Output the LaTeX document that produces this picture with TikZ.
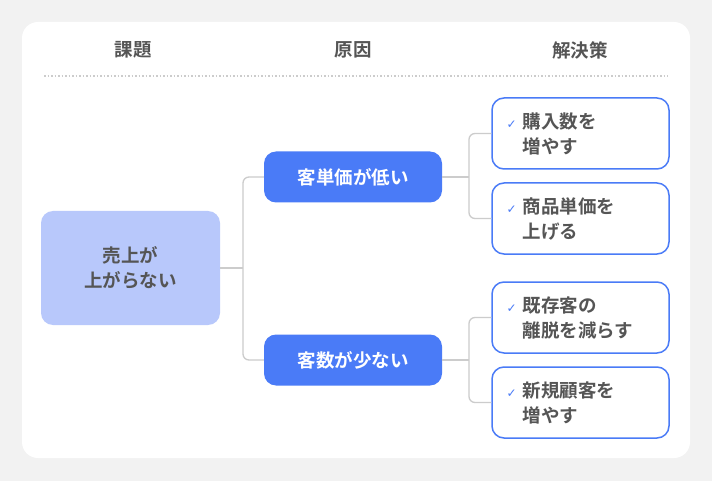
\documentclass[tikz,border=0pt]{standalone}
\usepackage{fontspec}
\newfontfamily\cjk{Noto Sans CJK JP Bold}
\newfontfamily\sym{DejaVu Sans}
\usetikzlibrary{positioning}
\definecolor{bggray}{HTML}{F2F2F2}
\definecolor{txtgray}{HTML}{555555}
\definecolor{mainblue}{HTML}{4A7BF7}
\definecolor{paleblue}{HTML}{B8C8FB}
\definecolor{linegray}{HTML}{CCCCCC}
\newcommand{\chk}{\hspace{6pt}\makebox[16pt][l]{\sym\bfseries\fontsize{12}{12}\selectfont\textcolor{mainblue}{✓}}}
\newcommand{\ind}{\hspace{22pt}}
\begin{document}
\begin{tikzpicture}[x=1pt,y=-1pt,
    font=\cjk\fontsize{18.5}{25}\selectfont,
    head/.style={text=txtgray},
    problem/.style={rounded corners=12pt,fill=paleblue,text=txtgray,minimum width=179pt,minimum height=114pt,align=center},
    cause/.style={rounded corners=12pt,fill=mainblue,text=white,minimum width=178pt,minimum height=51pt},
    fix/.style={rounded corners=12pt,draw=mainblue,line width=1.5pt,fill=white,text=txtgray,minimum width=177pt,minimum height=71pt,align=left,text width=160pt},
    link/.style={draw=linegray,line width=1.3pt,rounded corners=6pt}]
        % background
        \fill[bggray] (0,0) rectangle (712,481);
        \fill[white,rounded corners=16pt] (22,22) rectangle (690,458);

        % headings
        \node[head] (h1) at (133,50) {課題};
        \node[head] (h2) at (353,50) {原因};
        \node[head] (h3) at (580,50) {解決策};
        \draw[linegray,line width=1.5pt,dotted] (44,76) -- (668,76);

        % nodes
        \node[problem] (sales) at (130.5,268) {売上が\\上がらない};
        \node[cause] (price) at (353,177) {客単価が低い};
        \node[cause] (count) at (353,360) {客数が少ない};
        \node[fix] (s1) at (580.5,133.5) {\chk 購入数を\\\ind 増やす};
        \node[fix] (s2) at (580.5,218.5) {\chk 商品単価を\\\ind 上げる};
        \node[fix] (s3) at (580.5,317.5) {\chk 既存客の\\\ind 離脱を減らす};
        \node[fix] (s4) at (580.5,402.5) {\chk 新規顧客を\\\ind 増やす};

        % connectors
        \coordinate (j0) at (243,268);
        \coordinate (j1) at (469,177);
        \coordinate (j2) at (469,360);
        \draw[link] (sales.east) -- (j0);
        \draw[link] (price.west) -| (j0) |- (count.west);
        \draw[link] (price.east) -- (j1);
        \draw[link] (s1.west) -| (j1) |- (s2.west);
        \draw[link] (count.east) -- (j2);
        \draw[link] (s3.west) -| (j2) |- (s4.west);
\end{tikzpicture}
\end{document}
